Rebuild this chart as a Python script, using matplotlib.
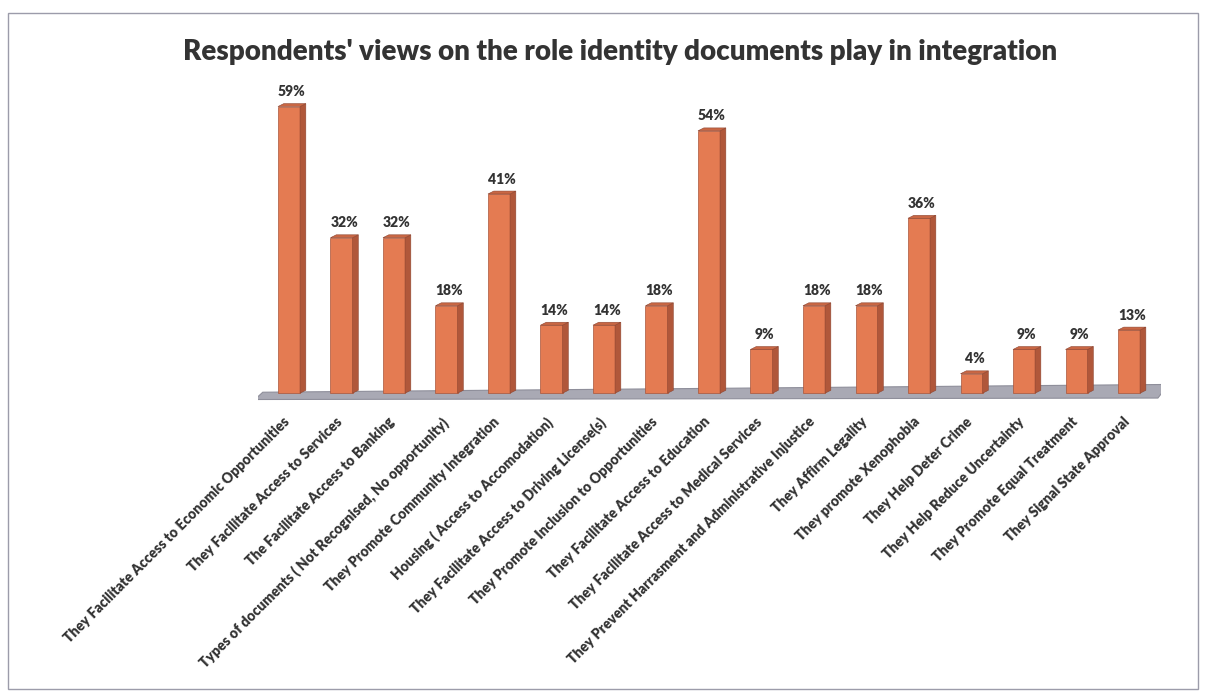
import matplotlib.pyplot as plt
from matplotlib.patches import Polygon, Rectangle
from matplotlib.transforms import ScaledTranslation

# data
labels = [
    "They Facilitate Access to Economic Opportunities",
    "They Facilitate Access to Services",
    "The Facilitate Access to Banking",
    "Types of documents ( Not Recognised, No opportunity)",
    "They Promote Community Integration",
    "Housing ( Access to Accomodation)",
    "They Facilitate Access to Driving License(s)",
    "They Promote Inclusion to Opportunities",
    "They Facilitate Access to Education",
    "They Facilitate Access to Medical Services",
    "They Prevent Harrasment and Administrative Injustice",
    "They Affirm Legality",
    "They promote Xenophobia",
    "They Help Deter Crime",
    "They Help Reduce Uncertainty",
    "They Promote Equal Treatment",
    "They Signal State Approval",
]
values = [59, 32, 32, 18, 41, 14, 14, 18, 54, 9, 18, 18, 36, 4, 9, 9, 13]

title = "Respondents' views on the role identity documents play in integration"

front_col = "#E47B52"
side_col = "#B0573A"
top_col = "#C96744"
text_col = "#333333"

plt.rcParams["font.family"] = ["Lato", "DejaVu Sans"]

fig = plt.figure(figsize=(12.05, 6.93), dpi=100)
ax = fig.add_axes([0.2137, 0.4214, 0.7494, 0.4459])

x = list(range(len(values)))
w = 0.42
dx, dy = 0.11, 0.6

# floor
n = len(values)
floor = Polygon(
    [(-0.65, -1.3), (n - 1 + 0.55, -1.0), (n - 1 + 0.75, 1.8), (-0.5, 0.2)],
    closed=True, facecolor="#A9A9B4", edgecolor="#8E8E9A", lw=0.8, zorder=1,
)
ax.add_patch(floor)

ax.bar(x, values, width=w, color=front_col, edgecolor="#A9553A", linewidth=0.5, zorder=3)
for xi, v in zip(x, values):
    r = xi + w / 2
    l = xi - w / 2
    ax.add_patch(Polygon([(r, 0), (r + dx, dy), (r + dx, v + dy), (r, v)],
                         closed=True, facecolor=side_col, edgecolor="#8E4530",
                         lw=0.4, zorder=3))
    ax.add_patch(Polygon([(l, v), (r, v), (r + dx, v + dy), (l + dx, v + dy)],
                         closed=True, facecolor=top_col, edgecolor="#8E4530",
                         lw=0.4, zorder=3))
    ax.annotate(f"{v}%", (xi + dx / 2, v + dy), xytext=(0, 4),
                textcoords="offset points", ha="center", va="bottom",
                fontsize=10, fontweight="heavy", color=text_col)

ax.set_xlim(-0.6, n - 1 + 0.6)
ax.set_ylim(-1.6, 62)
ax.set_xticks(x)
ax.set_xticklabels(labels, rotation=45, ha="right", va="top",
                   rotation_mode="anchor", fontsize=10, fontweight="heavy",
                   color=text_col)
ax.tick_params(axis="x", length=0, pad=10)
shift = ScaledTranslation(-6 / 100, 0, fig.dpi_scale_trans)
for t in ax.get_xticklabels():
    t.set_transform(t.get_transform() + shift)
ax.set_yticks([])
for s in ax.spines.values():
    s.set_visible(False)
ax.patch.set_alpha(0)

fig.text(0.515, 1 - 52 / 693, title, ha="center", va="center",
         fontsize=20, fontweight="heavy", color=text_col)

fig.patches.append(Rectangle((8 / 1205, 4 / 693), 1190 / 1205, 676 / 693,
                             transform=fig.transFigure, fill=False,
                             edgecolor="#9C9CAA", lw=1))

fig.savefig("out.png", dpi=100)
